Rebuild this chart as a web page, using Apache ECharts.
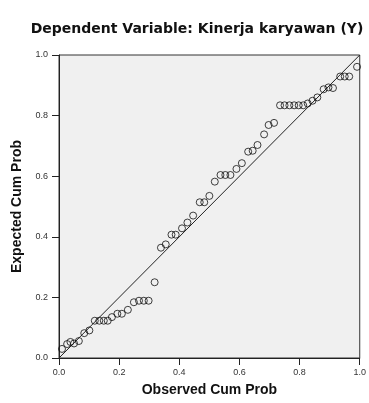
<!DOCTYPE html>
<html>
<head>
<meta charset="utf-8">
<script src="https://cdn.jsdelivr.net/npm/echarts@6/dist/echarts.min.js"></script>
<style>
  html, body { margin: 0; padding: 0; background: #fff; }
  #chart { width: 369px; height: 403px; }
</style>
</head>
<body>
<div id="chart"></div>
<script>
// observed cum prob (x) and expected cum prob (y)
const observed = [
  0.010, 0.027, 0.038, 0.050, 0.066, 0.084, 0.101, 0.119, 0.134, 0.149,
  0.162, 0.176, 0.194, 0.209, 0.229, 0.249, 0.266, 0.282, 0.298, 0.318,
  0.339, 0.355, 0.374, 0.388, 0.409, 0.427, 0.446, 0.468, 0.483, 0.500,
  0.518, 0.537, 0.553, 0.570, 0.590, 0.608, 0.629, 0.644, 0.660, 0.682,
  0.697, 0.715, 0.735, 0.750, 0.766, 0.782, 0.797, 0.812, 0.827, 0.843,
  0.859, 0.880, 0.896, 0.911, 0.935, 0.950, 0.965, 0.991
];
const expected = [
  0.030, 0.046, 0.053, 0.048, 0.056, 0.082, 0.091, 0.123, 0.123, 0.123,
  0.123, 0.135, 0.146, 0.146, 0.159, 0.184, 0.189, 0.189, 0.189, 0.250,
  0.364, 0.375, 0.407, 0.407, 0.428, 0.447, 0.470, 0.514, 0.514, 0.535,
  0.582, 0.604, 0.604, 0.604, 0.624, 0.643, 0.681, 0.684, 0.703, 0.738,
  0.769, 0.776, 0.834, 0.834, 0.834, 0.834, 0.834, 0.834, 0.840, 0.849,
  0.860, 0.887, 0.893, 0.891, 0.929, 0.929, 0.929, 0.961
];
const refLine = [[0, 0], [1, 1]];
const tickLabels = ['0.0', '0.2', '0.4', '0.6', '0.8', '1.0'];

const points = observed.map((x, i) => [x, expected[i]]);

const chart = echarts.init(document.getElementById('chart'));

const axisCommon = {
  type: 'value',
  min: 0,
  max: 1,
  interval: 0.2,
  nameLocation: 'middle',
  nameTextStyle: {
    fontFamily: 'Liberation Sans, Arial, sans-serif',
    fontWeight: 'bold',
    fontSize: 14,
    color: '#111'
  },
  axisLine: { show: true, lineStyle: { color: '#222', width: 1 } },
  axisTick: { show: true, inside: false, length: 7, lineStyle: { color: '#222' } },
  axisLabel: {
    fontFamily: 'Liberation Sans, Arial, sans-serif',
    fontSize: 9,
    color: '#333',
    formatter: (v) => tickLabels[Math.round(v / 0.2)]
  },
  splitLine: { show: false }
};

const option = {
  animation: false,
  title: {
    text: 'Dependent Variable: Kinerja karyawan (Y)',
    left: 192,
    top: 17,
    textAlign: 'center',
    textStyle: {
      fontFamily: 'DejaVu Sans, sans-serif',
      fontWeight: 'bold',
      fontSize: 14,
      color: '#111'
    }
  },
  grid: {
    left: 59,
    top: 55,
    width: 303,
    height: 303,
    show: true,
    backgroundColor: '#f0f0f0',
    borderColor: '#333',
    borderWidth: 1
  },
  xAxis: Object.assign({}, axisCommon, {
    name: 'Observed Cum Prob',
    nameGap: 25,
    axisLabel: Object.assign({}, axisCommon.axisLabel, { margin: 10 })
  }),
  yAxis: Object.assign({}, axisCommon, {
    name: 'Expected Cum Prob',
    nameGap: 32,
    axisLabel: Object.assign({}, axisCommon.axisLabel, { margin: 11 })
  }),
  series: [
    {
      type: 'line',
      data: refLine,
      showSymbol: false,
      symbol: 'none',
      silent: true,
      lineStyle: { color: '#222', width: 1 },
      z: 1
    },
    {
      type: 'scatter',
      data: points,
      symbol: 'circle',
      symbolSize: 7,
      itemStyle: {
        color: 'rgba(0,0,0,0)',
        borderColor: '#111',
        borderWidth: 1
      },
      z: 2
    }
  ]
};

chart.setOption(option);
</script>
</body>
</html>
